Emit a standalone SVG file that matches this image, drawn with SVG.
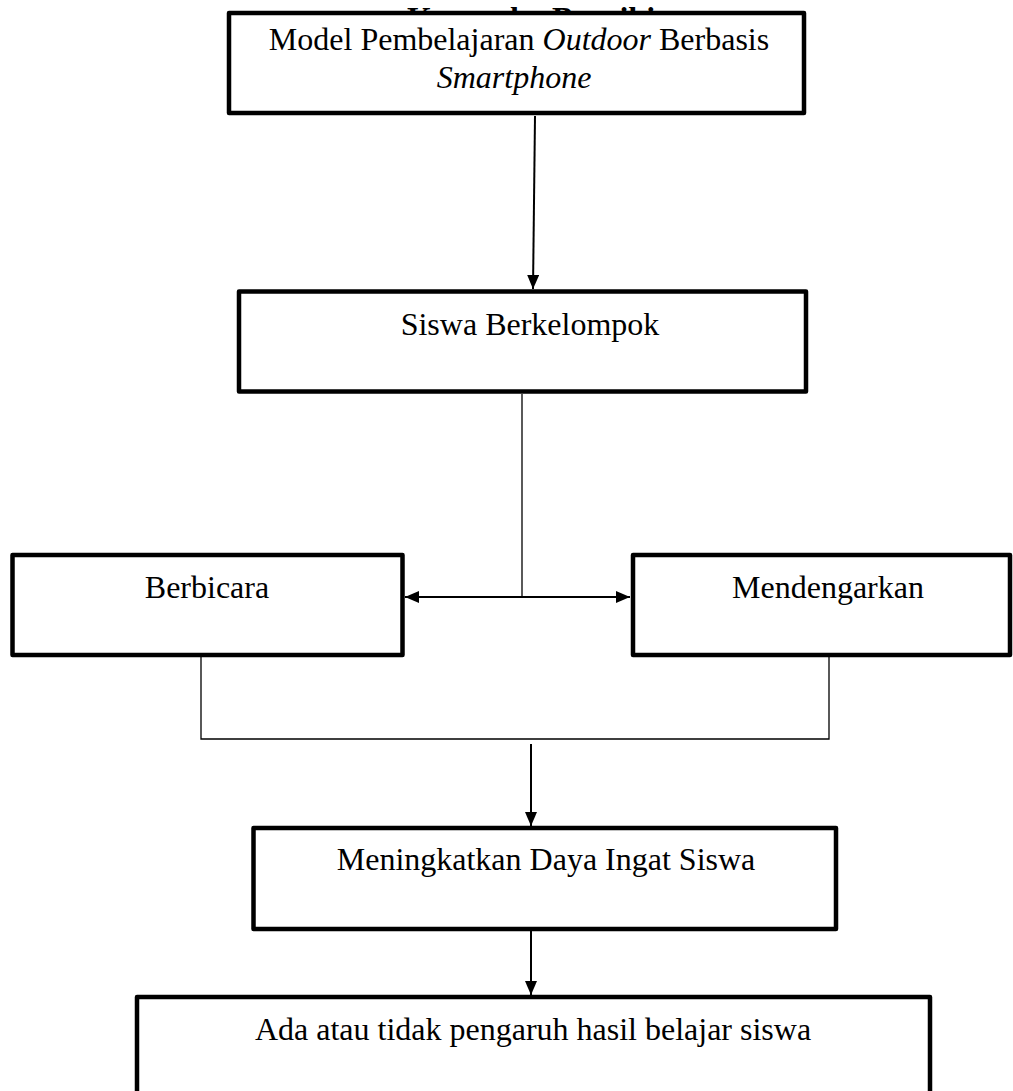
<svg xmlns="http://www.w3.org/2000/svg" width="1013" height="1091" viewBox="0 0 1013 1091">
<style>
.box{fill:#fff;stroke:#000;stroke-width:4.5;stroke-linejoin:round}
.t{font-family:"Liberation Serif","Times New Roman",serif;font-size:32px;fill:#000}
.title{font-family:"Liberation Serif","Times New Roman",serif;font-size:32px;font-weight:bold;fill:#000}
.arr{fill:none;stroke:#000;stroke-width:2}
.thin{fill:none;stroke:#000;stroke-width:1.3}
</style>
<defs>
<marker id="ah" viewBox="0 0 14 12" refX="14" refY="6" markerWidth="14" markerHeight="12" markerUnits="userSpaceOnUse" orient="auto-start-reverse">
<path d="M0,0 L14,6 L0,12 Z" fill="#000"/>
</marker>
</defs>
<rect width="1013" height="1091" fill="#fff"/>
<text class="title" x="407" y="29">Kerangka Berpikir</text>
<g id="connectors">
<path class="arr" d="M535,116 L533,289" marker-end="url(#ah)"/>
<path class="thin" d="M522,394 L522,597"/>
<path class="arr" d="M520,597 L405,597" marker-end="url(#ah)"/>
<path class="arr" d="M520,597 L630,597" marker-end="url(#ah)"/>
<path class="thin" d="M201,657 L201,739 L829,739 L829,657"/>
<path class="arr" d="M531,744 L531,826" marker-end="url(#ah)"/>
<path class="arr" d="M531,931 L531,995" marker-end="url(#ah)"/>
</g>
<g id="node-model">
<rect class="box" x="229" y="13" width="575" height="100"/>
<text class="t" x="519" y="50" text-anchor="middle">Model Pembelajaran <tspan font-style="italic">Outdoor</tspan> Berbasis</text>
<text class="t" x="514" y="88" text-anchor="middle" font-style="italic">Smartphone</text>
</g>
<g id="node-siswa">
<rect class="box" x="239" y="291.5" width="567" height="100"/>
<text class="t" x="530" y="335" text-anchor="middle">Siswa Berkelompok</text>
</g>
<g id="node-berbicara">
<rect class="box" x="12.5" y="555" width="390" height="100"/>
<text class="t" x="207" y="598" text-anchor="middle">Berbicara</text>
</g>
<g id="node-mendengarkan">
<rect class="box" x="633" y="555" width="377" height="100"/>
<text class="t" x="828" y="598" text-anchor="middle">Mendengarkan</text>
</g>
<g id="node-meningkatkan">
<rect class="box" x="253.5" y="828" width="582.5" height="101"/>
<text class="t" x="546" y="870" text-anchor="middle">Meningkatkan Daya Ingat Siswa</text>
</g>
<g id="node-ada">
<rect class="box" x="137" y="997" width="793" height="120"/>
<text class="t" x="533" y="1040" text-anchor="middle">Ada atau tidak pengaruh hasil belajar siswa</text>
</g>
</svg>
